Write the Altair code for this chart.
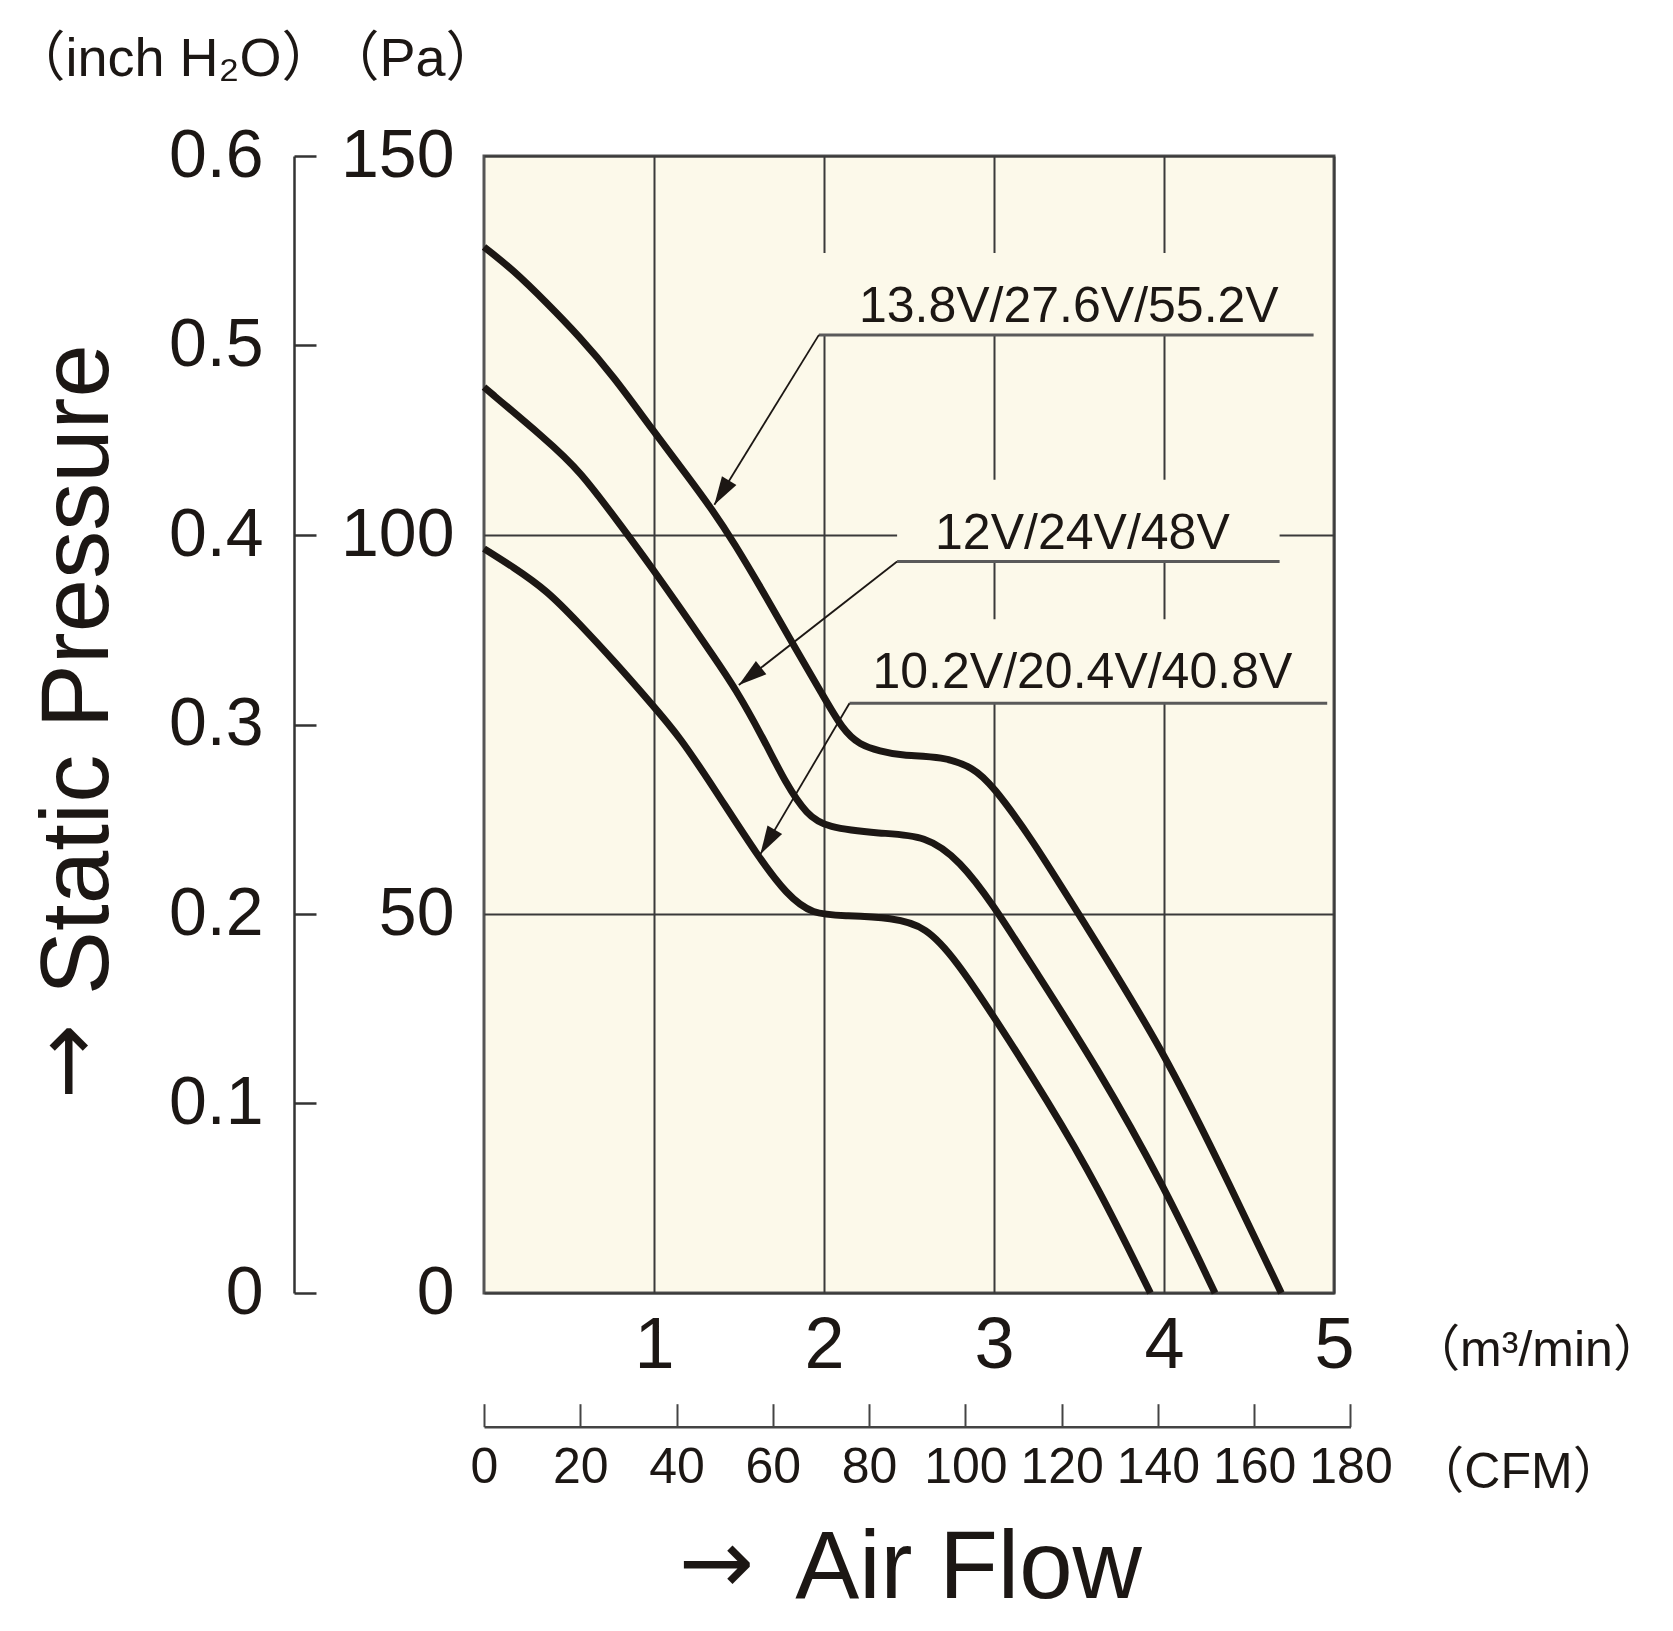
import math
import altair as alt
import pandas as pd

# ---------------- data ----------------
SERIES = ["13.8V/27.6V/55.2V", "12V/24V/48V", "10.2V/20.4V/40.8V"]

HIGH_FLOW = [0.0, 0.17, 0.37, 0.56, 0.76, 0.99, 1.19, 1.35, 1.47, 1.64, 1.82, 1.99, 2.11, 2.21, 2.33, 2.45, 2.70, 2.88, 2.99, 3.22, 3.50, 4.00, 4.40, 4.69]
HIGH_PRES = [138.0, 135.0, 130.6, 126.2, 121.0, 113.9, 108.0, 103.1, 99.0, 92.6, 85.5, 79.0, 74.3, 72.3, 71.5, 70.9, 70.8, 69.3, 67.0, 60.0, 49.9, 32.0, 13.6, 0.0]

MID_FLOW = [0.0, 0.37, 0.56, 0.82, 0.99, 1.15, 1.35, 1.48, 1.64, 1.78, 1.90, 2.01, 2.33, 2.60, 2.80, 2.99, 3.22, 3.61, 4.00, 4.30]
MID_PRES = [119.5, 112.5, 108.6, 100.8, 95.6, 90.5, 84.0, 79.7, 73.3, 67.0, 63.1, 61.4, 60.6, 60.4, 57.0, 51.4, 43.3, 29.7, 14.1, 0.0]

LOW_FLOW = [0.0, 0.17, 0.37, 0.56, 0.76, 0.99, 1.15, 1.35, 1.62, 1.78, 1.93, 2.13, 2.40, 2.60, 2.78, 2.99, 3.32, 3.61, 3.92]
LOW_PRES = [98.2, 95.8, 92.7, 88.3, 83.5, 77.6, 73.4, 66.7, 57.3, 52.6, 49.9, 49.8, 49.5, 48.4, 43.8, 36.8, 25.2, 14.1, 0.0]

# annotation labels with leader lines and arrows (data units: m3/min, Pa)
LABEL_X = [3.44, 3.52, 3.52]
LABEL_Y = [128.1, 98.2, 79.8]
LEADER_X1 = [1.97, 2.43, 2.15]
LEADER_X2 = [4.88, 4.68, 4.96]
LEADER_Y = [126.4, 96.5, 77.8]
TIP_X = [1.355, 1.499, 1.626]
TIP_Y = [104.0, 80.2, 57.9]

M3_TICKS = [1, 2, 3, 4, 5]
PA_TICKS = [0, 50, 100, 150]
INCH_TICKS = [0, 0.1, 0.2, 0.3, 0.4, 0.5, 0.6]
CFM_TICKS = [0, 20, 40, 60, 80, 100, 120, 140, 160, 180]
CFM_PER_M3MIN = 35.3147

# ---------------- styling ----------------
W, H = 850, 1137
BG = "#FCF9EA"
INK = "#1c1714"
GRID = "#3a3a3a"
NUM = "Liberation Sans, Arial, sans-serif"
SANS = "Liberation Sans, Noto Sans CJK JP, sans-serif"
ARROWFONT = "DejaVu Sans, sans-serif"
LABEL_BOX_PAD = 9.1  # Pa above the label baseline kept clear of grid lines

rows = []
for name, fl, pr in zip(SERIES, [HIGH_FLOW, MID_FLOW, LOW_FLOW], [HIGH_PRES, MID_PRES, LOW_PRES]):
    for f, p in zip(fl, pr):
        rows.append({"series": name, "flow": f, "pres": p})
curves_df = pd.DataFrame(rows)

px_x = W / 5.0
px_y = H / 150.0
angles = []
for x1, y1, tx, ty in zip(LEADER_X1, LEADER_Y, TIP_X, TIP_Y):
    dx = (tx - x1) * px_x
    dy = -(ty - y1) * px_y
    angles.append(math.degrees(math.atan2(dx, -dy)) % 360)

ann_df = pd.DataFrame({
    "label": SERIES, "lx": LABEL_X, "ly": LABEL_Y,
    "flow": LEADER_X1, "flow2": LEADER_X2, "pres": LEADER_Y,
    "top": [v + LABEL_BOX_PAD for v in LABEL_Y],
    "tx": TIP_X, "ty": TIP_Y, "ang": angles,
})


def xs():
    return alt.Scale(domain=[0, 5], nice=False, zero=False)


def ys():
    return alt.Scale(domain=[0, 150], nice=False, zero=False)


x_axis = alt.Axis(
    orient="bottom", values=M3_TICKS, domain=False, ticks=False,
    labelPadding=17, labelFont=NUM, labelFontSize=72, labelColor=INK,
    labelFlush=False, labelOverlap=False,
    grid=True, gridColor=GRID, gridWidth=2, gridOpacity=1,
    title="（m³/min）", titleX=1052, titleY=57, titleAngle=0,
    titleAlign="center", titleBaseline="middle", titleFont=SANS,
    titleFontSize=50, titleFontWeight="normal", titleColor=INK,
)
y_axis = alt.Axis(
    orient="left", values=PA_TICKS, domain=False, ticks=False,
    labelPadding=30, labelFont=NUM, labelFontSize=68, labelColor=INK,
    labelOverlap=False,
    grid=True, gridColor=GRID, gridWidth=2, gridOpacity=1,
    title="（Pa）", titleX=-72, titleY=-97, titleAngle=0,
    titleAlign="center", titleBaseline="middle", titleFont=SANS,
    titleFontSize=54, titleFontWeight="normal", titleColor=INK,
)

# label background boxes that interrupt the grid behind each label
boxes = alt.Chart(ann_df).mark_rect(color=BG, opacity=1, strokeWidth=0).encode(
    x=alt.X("flow:Q", scale=xs(), axis=None), x2="flow2:Q",
    y=alt.Y("pres:Q", scale=ys(), axis=None), y2="top:Q",
)

curves = alt.Chart(curves_df).mark_line(
    interpolate="basis", strokeWidth=7, color=INK,
).encode(
    x=alt.X("flow:Q", scale=xs(), axis=x_axis),
    y=alt.Y("pres:Q", scale=ys(), axis=y_axis),
    detail="series:N",
)

underlines = alt.Chart(ann_df).mark_rule(color="#5a5a5a", strokeWidth=3).encode(
    x=alt.X("flow:Q", scale=xs(), axis=None), x2="flow2:Q",
    y=alt.Y("pres:Q", scale=ys(), axis=None),
)

leaders = alt.Chart(ann_df).mark_rule(color=INK, strokeWidth=1.8).encode(
    x=alt.X("flow:Q", scale=xs(), axis=None), x2="tx:Q",
    y=alt.Y("pres:Q", scale=ys(), axis=None), y2="ty:Q",
)

heads = alt.Chart(ann_df).mark_point(
    shape="M0,0L0.6,2L-0.6,2Z", size=800, filled=True, color=INK, opacity=1, strokeWidth=0,
).encode(
    x=alt.X("tx:Q", scale=xs(), axis=None),
    y=alt.Y("ty:Q", scale=ys(), axis=None),
    angle=alt.Angle("ang:Q", scale=None),
)

labels = alt.Chart(ann_df).mark_text(
    font=NUM, fontSize=50, align="center", baseline="alphabetic", color=INK,
).encode(x=alt.X("lx:Q", scale=xs(), axis=None), y=alt.Y("ly:Q", scale=ys(), axis=None), text="label:N")

# ---- secondary axes: CFM (bottom) and inch H2O (left) ----
cfm_range = W * CFM_TICKS[-1] / (5 * CFM_PER_M3MIN)
dummy = pd.DataFrame({"cfm": [CFM_TICKS[0], CFM_TICKS[-1]], "inch": [INCH_TICKS[0], INCH_TICKS[-1]]})


def cfm_s():
    return alt.Scale(domain=[0, 180], range=[0, cfm_range], nice=False, zero=False)


def inch_s():
    return alt.Scale(domain=[0, 0.6], nice=False, zero=False)


sec_ticks = alt.Chart(dummy).mark_point(opacity=0).encode(
    x=alt.X("cfm:Q", scale=cfm_s(), axis=alt.Axis(
        orient="bottom", offset=110.7, values=CFM_TICKS, domain=False,
        ticks=True, tickSize=23, tickWidth=2, tickColor="#444",
        labelPadding=16, labelFont=NUM, labelFontSize=50, labelColor=INK,
        labelFlush=False, labelOverlap=False, grid=False,
        title="（CFM）", titleX=1034, titleY=69, titleAngle=0,
        titleAlign="center", titleBaseline="middle", titleFont=SANS,
        titleFontSize=50, titleFontWeight="normal", titleColor=INK,
    )),
    y=alt.Y("inch:Q", scale=inch_s(), axis=alt.Axis(
        orient="left", offset=168, values=INCH_TICKS, domain=False,
        ticks=True, tickSize=22, tickWidth=2.5, tickColor="#333",
        labelPadding=31, labelFont=NUM, labelFontSize=68, labelColor=INK,
        labelOverlap=False, grid=False,
        labelExpr="datum.value == 0 ? '0' : format(datum.value, '.1f')",
        title="（inch H₂O）", titleX=-305, titleY=-97, titleAngle=0,
        titleAlign="left", titleBaseline="middle", titleFont=SANS,
        titleFontSize=54, titleFontWeight="normal", titleColor=INK,
    )),
)

sec_domain = alt.Chart(dummy).mark_point(opacity=0).encode(
    x=alt.X("cfm:Q", scale=cfm_s(), axis=alt.Axis(
        orient="bottom", offset=133.7, values=CFM_TICKS, domain=True,
        domainColor="#444", domainWidth=2.5, ticks=False, labels=False, grid=False,
        title="Air Flow", titleX=484, titleY=171, titleAngle=0,
        titleAlign="center", titleBaseline="alphabetic", titleFont=SANS,
        titleFontSize=96, titleFontWeight="normal", titleColor=INK,
    )),
    y=alt.Y("inch:Q", scale=inch_s(), axis=alt.Axis(
        orient="left", offset=190, values=INCH_TICKS, domain=True,
        domainColor="#333", domainWidth=2.5, ticks=False, labels=False, grid=False,
        title="Static Pressure", titleX=-187, titleY=513, titleAngle=270,
        titleAlign="center", titleBaseline="alphabetic", titleFont=SANS,
        titleFontSize=96, titleFontWeight="normal", titleColor=INK,
    )),
)

arrow_df = pd.DataFrame({"ax": [0, 1], "ay": [0, 1]})
arrows = alt.Chart(arrow_df).mark_point(opacity=0).encode(
    x=alt.X("ax:Q", scale=alt.Scale(domain=[0, 1]), axis=alt.Axis(
        orient="bottom", domain=False, ticks=False, labels=False, grid=False,
        title="→", titleX=232, titleY=272, titleAngle=0,
        titleAlign="center", titleBaseline="middle", titleFont=ARROWFONT,
        titleFontSize=90, titleFontWeight="normal", titleColor=INK,
    )),
    y=alt.Y("ay:Q", scale=alt.Scale(domain=[0, 1]), axis=alt.Axis(
        orient="left", domain=False, ticks=False, labels=False, grid=False,
        title="→", titleX=-415, titleY=905, titleAngle=270,
        titleAlign="center", titleBaseline="middle", titleFont=ARROWFONT,
        titleFontSize=90, titleFontWeight="normal", titleColor=INK,
    )),
)

chart = alt.layer(
    boxes, curves, underlines, leaders, heads, labels, sec_ticks, sec_domain, arrows
).resolve_scale(
    x="independent", y="independent"
).properties(
    width=W, height=H,
    autosize=alt.AutoSizeParams(type="none"),
    padding={"left": 476, "top": 148, "right": 331, "bottom": 330},
    background="white",
).configure_view(
    fill=BG, stroke="#555555", strokeWidth=3,
)

chart.save("out.html", embed_options={"renderer": "svg", "actions": False})
